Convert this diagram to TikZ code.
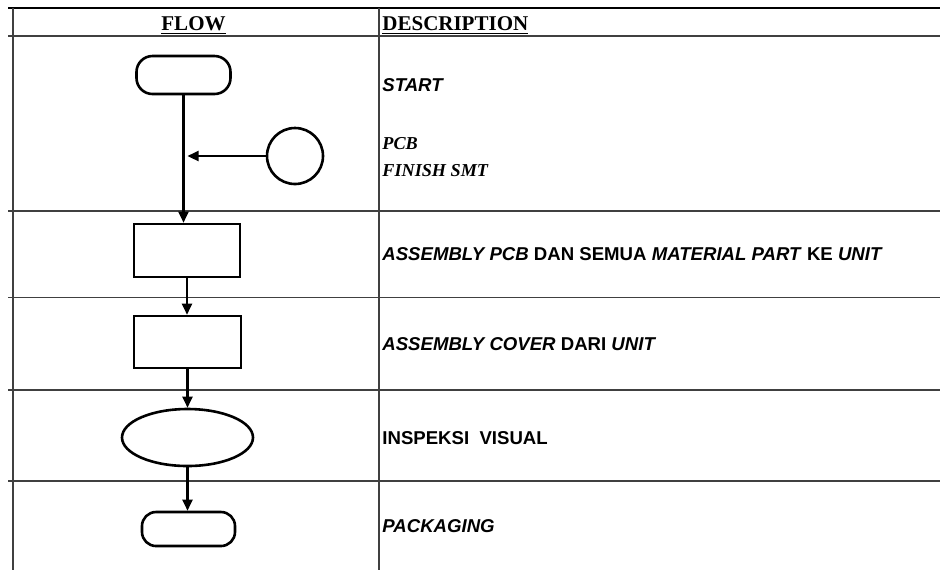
\documentclass[tikz,border=0pt]{standalone}
\usepackage{fontspec}
\setmainfont{Liberation Serif}
\newfontfamily\arialfont{Liberation Sans}
\usetikzlibrary{arrows.meta,shapes.geometric}

\begin{document}
\begin{tikzpicture}[x=0.5pt, y=-0.5pt,
    gridline/.style={draw=black!75, line width=0.7pt},
    symb/.style={draw, line width=1.3pt, inner sep=0pt},
    flowarrow/.style={-{Triangle[length=5.5pt,width=5pt]}, line width=1.1pt},
    headtext/.style={font=\fontsize{10.5}{12}\selectfont\bfseries, inner sep=0pt, anchor=base},
    desctext/.style={font=\arialfont\fontsize{9.3}{11}\selectfont\bfseries, inner sep=0pt, anchor=base west},
    notetext/.style={font=\fontsize{9.1}{11}\selectfont\bfseries\itshape, inner sep=0pt, anchor=base west}]
    \useasboundingbox (0,0) rectangle (940,570);

    % Table
    \draw[line width=0.8pt] (8,8) -- (940,8);
    \foreach \yy in {36,211,297.5,390,481}
        \draw[gridline] (8,\yy) -- (940,\yy);
    \draw[gridline] (13,8) -- (13,570);
    \draw[gridline] (379,8) -- (379,570);

    % Header
    \node[headtext] at (193.5,30.5) (flowhead) {\underline{FLOW}};
    \node[headtext, anchor=base west] at (382,30.5) (deschead) {\underline{DESCRIPTION}};

    % Flow symbols
    \node[symb, rounded corners=8pt, minimum width=47pt, minimum height=19pt] at (183.5,75) (start) {};
    \node[symb, circle, minimum size=28pt] at (295,156) (pcb) {};
    \node[symb, minimum width=53pt, minimum height=26.5pt] at (187,250.5) (asm1) {};
    \node[symb, minimum width=53.5pt, minimum height=26pt] at (187.5,342) (asm2) {};
    \node[symb, ellipse, minimum width=65.5pt, minimum height=28.5pt] at (187.5,437.5) (insp) {};
    \node[symb, rounded corners=7pt, minimum width=46.5pt, minimum height=17pt] at (188.5,529) (pack) {};

    % Arrows
    \draw[flowarrow] (start.south) -- (start.south |- asm1.north);
    \draw[flowarrow] (pcb.west) -- ([xshift=2pt]start.south |- pcb.west);
    \draw[flowarrow] (asm1.south) -- (asm1.south |- asm2.north);
    \draw[flowarrow] (asm2.south) -- (asm2.south |- insp.north);
    \draw[flowarrow] (insp.south) -- (insp.south |- pack.north);

    % Description
    \node[desctext] at (382,91.7) (starttxt) {\itshape START};
    \node[notetext] at (382,149) (pcbtxt) {PCB};
    \node[notetext] at (382,176.7) (smttxt) {FINISH SMT};
    \node[desctext] at (382,260.7) (asm1txt) {\textit{ASSEMBLY PCB} DAN SEMUA \textit{MATERIAL PART} KE \textit{UNIT}};
    \node[desctext] at (382,350) (asm2txt) {\textit{ASSEMBLY COVER} DARI \textit{UNIT}};
    \node[desctext] at (382,444) (insptxt) {INSPEKSI\ \ VISUAL};
    \node[desctext] at (382,532) (packtxt) {\itshape PACKAGING};
\end{tikzpicture}
\end{document}
